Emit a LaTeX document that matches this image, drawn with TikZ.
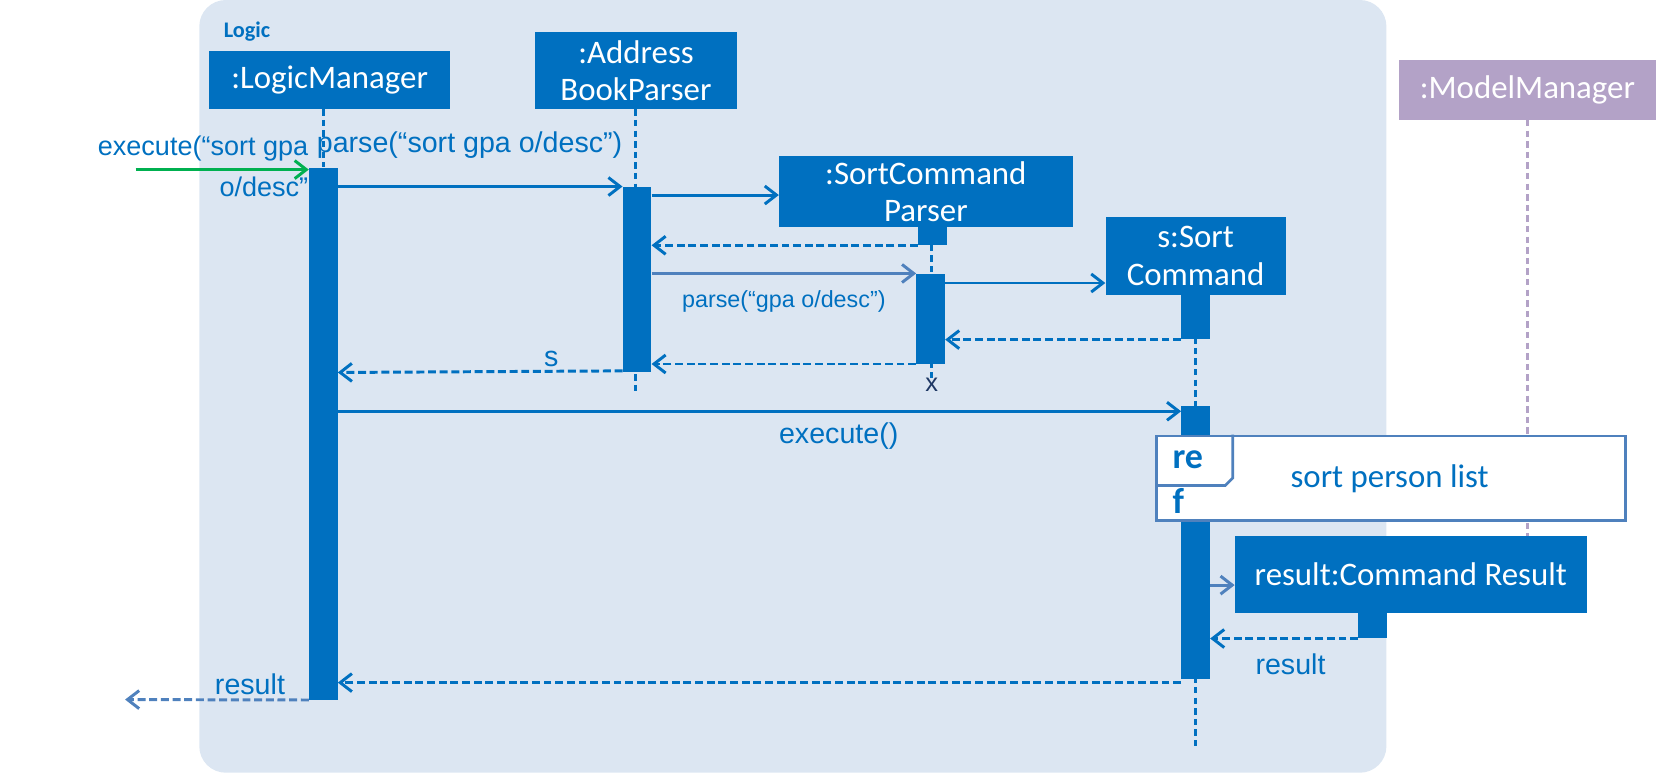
\documentclass[tikz,border=0pt]{standalone}
\usepackage{fontspec}
\setmainfont{Liberation Sans}
\newfontfamily\calibri{Carlito}
\usetikzlibrary{arrows.meta}

\begin{document}
\begin{tikzpicture}[x=1pt,y=-1pt,
  actor/.style={fill=boxblue,text=white,font=\calibri\fontsize{31}{35}\selectfont,align=center,inner sep=0pt},
  bar/.style={fill=boxblue,minimum width=27,inner sep=0pt,anchor=north},
  life/.style={draw=boxblue,line width=2.8pt,dash pattern=on 6pt off 4pt},
  msg/.style={draw=boxblue,line width=2.8pt,-{Straight Barb[length=11pt,width=17pt,line width=2.8pt]}},
  ret/.style={msg,dash pattern=on 7.5pt off 3.5pt},
  lbl/.style={text=boxblue,font=\fontsize{27}{38}\selectfont,inner sep=1pt}]
\definecolor{boxblue}{HTML}{0070C0}
\definecolor{softblue}{HTML}{4F81BD}
\definecolor{logicbg}{HTML}{DCE6F2}
\definecolor{mmpurple}{HTML}{B3A2C7}
\definecolor{foundgreen}{HTML}{00B050}
\definecolor{navy}{HTML}{1F3864}
\useasboundingbox (0,0) rectangle (1568,731);
\fill[logicbg,rounded corners=25] (188,0) rectangle (1308,729);
\node[text=boxblue,font=\calibri\bfseries\fontsize{21}{24}\selectfont] (logic) at (233,30) {Logic};

\node[actor,minimum width=228,minimum height=55] (lm) at (311,75.5) {:LogicManager};
\node[actor,minimum width=190,minimum height=73] (abp) at (600,66.5) {:Address\\BookParser};
\node[actor,minimum width=277,minimum height=67] (scp) at (873.5,180.5) {:SortCommand\\Parser};
\node[actor,minimum width=170,minimum height=73] (sc) at (1128,241.5) {s:Sort\\Command};
\node[actor,fill=mmpurple,minimum width=242,minimum height=56] (mm) at (1441,85) {:ModelManager};
\node[text=navy,font=\fontsize{24}{24}\selectfont,inner sep=0pt] (kill) at (879,363) {x};
\coordinate (abpend) at (600,370);
\coordinate (scend) at (1128,705);

% lifelines
\draw[life] (abp.south) -- (abpend);
\draw[life] (305,103) -- (305,158);
\draw[life] (879,231) -- (kill.north);
\draw[life] (sc.south) -- (scend);
\draw[life,draw=mmpurple] (mm.south) -- (mm.south |- 0,506);

\foreach \name/\x/\top/\h in {lmbar/305/158/502,abpbar/601/176/175,scpstub/879.5/214/17,
  scpbar/878/258/85,scstub/1128/278/42,scbar/1128/383/257,crstub/1295/578/24}
  { \node[bar,minimum height=\h] (\name) at (\x,\top) {}; }

\node[actor,minimum width=332,minimum height=72] (cr) at (1331,542) {result:Command Result};

% ref frame
\node[draw=softblue,line width=2.5pt,fill=white,minimum width=442,minimum height=80,anchor=north west] (ref) at (1090,410) {};
\draw[softblue,line width=2.5pt] (ref.north west) ++(73,0) -- ++(0,41) -- ++(-7,7) -- (ref.west |- 0,458);
\node[text=boxblue,font=\calibri\bfseries\fontsize{34}{42}\selectfont,align=left,anchor=north west,inner sep=0pt] (reflabel) at (1106,425) {re\\f};
\node[text=boxblue,font=\calibri\fontsize{31}{34}\selectfont] (refname) at (1311,452) {sort person list};

% messages
\coordinate (start) at (128,160);
\draw[msg,draw=foundgreen] (start) -- (lmbar.west |- start);
\node[lbl,align=right,anchor=east,font=\fontsize{25.5}{38}\selectfont] (execlbl) at (292,157) {execute(“sort gpa\\o/desc”};
\draw[msg] (lmbar.east |- abpbar.north) -- node[lbl,above=24pt,xshift=-10pt] {parse(“sort gpa o/desc”)} (abpbar.north west);
\draw[msg] (abpbar.east |- 0,184) -- (scp.west |- 0,184);
\draw[ret] (scpstub.south west) -- (abpbar.east |- scpstub.south);
\draw[msg,draw=softblue] (abpbar.east |- scpbar.north) -- node[lbl,below=14pt,font=\fontsize{22}{24}\selectfont] {parse(“gpa o/desc”)} (scpbar.north west);
\draw[msg] (scpbar.east |- 0,267) -- (sc.west |- 0,267);
\draw[ret] (scstub.south west) -- (scpbar.east |- scstub.south);
\draw[ret] (scpbar.south west) -- (abpbar.east |- scpbar.south);
\draw[ret] ([yshift=1.5pt]abpbar.south west) -- node[lbl,pos=0.25,above=2pt] {s} (lmbar.east |- abpbar.south);
\draw[msg] (lmbar.east |- 0,388) -- node[lbl,pos=0.594,below=8pt] {execute()} (scbar.west |- 0,388);
\draw[msg,draw=softblue] (scbar.east |- 0,552) -- (cr.west |- 0,552);
\draw[ret] (crstub.south west) -- node[lbl,below=12pt,xshift=6pt] {result} (scbar.east |- crstub.south);
\draw[ret] (scbar.west |- 0,644) -- (lmbar.east |- 0,644);
\coordinate (finish) at (118,660);
\draw[ret,draw=softblue] (lmbar.south west) -- node[lbl,pos=0.32,above=2pt] {result} (finish);
\end{tikzpicture}
\end{document}
